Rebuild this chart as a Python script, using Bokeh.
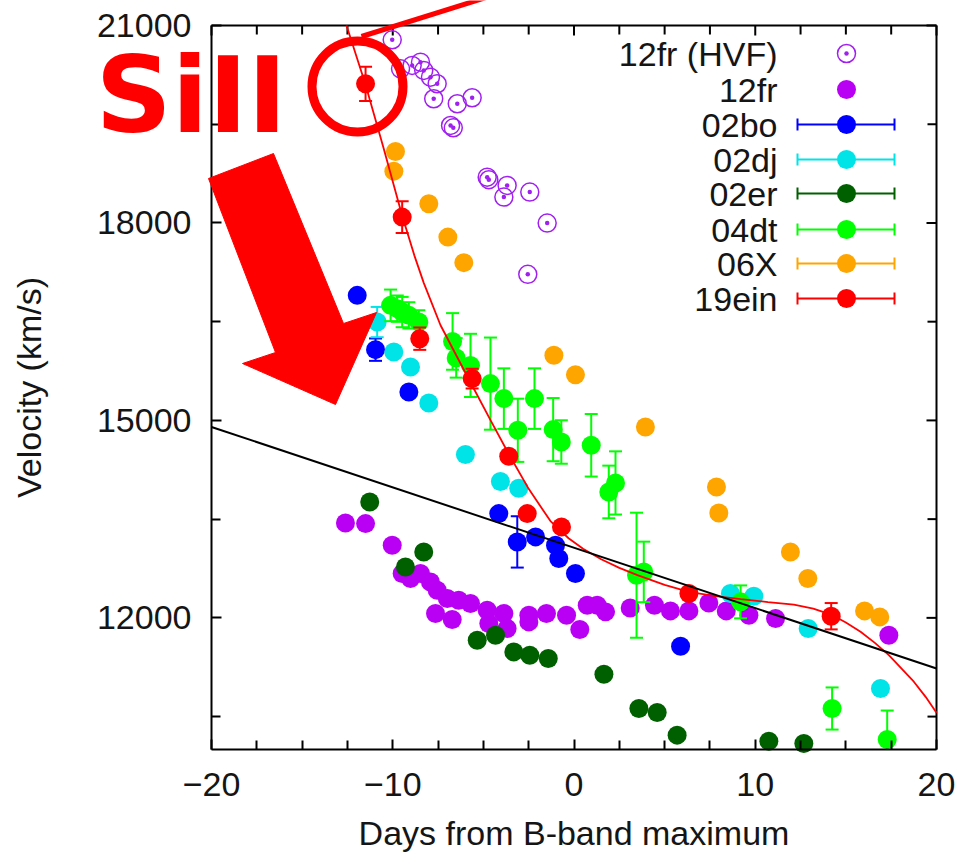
from bokeh.plotting import figure
from bokeh.models import Range1d, LinearAxis, FixedTicker, Label, Arrow, PolyAnnotation
from bokeh.embed import file_html
from bokeh.resources import INLINE

# ---------------- data ----------------
hvf_days = [-10.03, -9.57, -8.93, -8.47, -8.29, -7.92, -7.55, -7.74, -6.44, -5.62,
            -6.81, -6.66, -4.79, -4.70, -3.69, -3.87, -2.44, -1.48, -2.55]
hvf_vel = [20783, 20342, 20393, 20443, 20317, 20215, 20115, 19887, 19811, 19902,
           19481, 19446, 18696, 18657, 18570, 18393, 18469, 17998, 17219]

fr_days = [-12.61, -11.50, -10.03, -9.48, -9.02, -8.47, -7.92, -7.55, -6.99, -6.36,
           -5.71, -4.79, -3.87, -7.64, -6.72, -4.70, -3.69, -2.49, -2.49, -1.52,
           -0.41, 0.32, 0.73, 1.28, 1.74, 3.10, 4.44, 5.32, 6.34, 7.44,
           8.40, 9.65, 11.12, 17.37]
fr_vel = [13442, 13432, 13103, 12674, 12597, 12674, 12546, 12420, 12294, 12268,
          12218, 12116, 12066, 12066, 11975, 11914, 11838, 12040, 11939, 12066,
          12040, 11823, 12192, 12192, 12091, 12150, 12192, 12106, 12106, 12227,
          12106, 12040, 11990, 11737]

bo_days = [-11.96, -10.95, -9.11, -4.15, -3.13, -2.12, -1.02, -0.84, 0.08, 5.88]
bo_vel = [16900, 16075, 15431, 13584, 13154, 13230, 13103, 12901, 12674, 11570]
bo_err = [0, 170, 0, 0, 390, 0, 0, 0, 0, 0]

dj_days = [-10.86, -9.94, -9.02, -8.01, -5.99, -4.06, -3.05, 8.63, 9.92, 12.92, 16.91]
dj_vel = [16494, 16039, 15811, 15264, 14481, 14071, 13970, 12369, 12329, 11838, 10927]
dj_err = [230, 0, 0, 0, 0, 0, 0, 0, 0, 0, 0]

er_days = [-11.27, -8.29, -9.30, -5.34, -4.33, -3.32, -2.44, -1.42, 1.65, 3.58,
           4.59, 5.69, 10.75, 12.68]
er_vel = [13761, 13002, 12774, 11661, 11737, 11483, 11433, 11383, 11144, 10623,
          10563, 10218, 10127, 10092]
er_err = [0] * 14

dt_days = [-10.12, -9.75, -9.48, -9.11, -8.56, -6.70, -6.50, -5.71, -4.61, -3.87,
           -3.10, -2.18, -1.15, -0.70, 0.95, 1.92, 2.29, 3.45, 3.85, 9.19, 14.24, 17.28]
dt_vel = [16748, 16698, 16646, 16596, 16494, 16200, 15950, 15836, 15559, 15331,
          14850, 15331, 14860, 14672, 14622, 13913, 14050, 12648, 12698, 12243, 10623, 10152]
dt_err = [240, 200, 230, 200, 180, 430, 300, 480, 700, 460,
          480, 460, 480, 330, 475, 400, 480, 950, 460, 250, 320, 440]

x_days = [-9.85, -9.94, -8.01, -6.96, -6.08, -1.11, 0.08, 3.94, 7.86, 7.99,
          11.94, 12.90, 16.03, 16.87]
x_vel = [19087, 18787, 18292, 17785, 17397, 15989, 15695, 14900, 13989, 13594,
         13002, 12597, 12106, 12015]
x_err = [0] * 14

ein_days = [-11.50, -9.48, -8.51, -5.62, -3.60, -2.58, -0.69, 6.34, 14.19]
ein_vel = [20114, 18089, 16242, 15635, 14455, 13584, 13382, 12369, 12025]
ein_err = [260, 240, 170, 150, 0, 0, 0, 0, 200]

# fitted curve of 19ein
fit_days = [-12.55, -11.50, -10.50, -9.48, -8.80, -8.29, -7.37, -6.50, -5.62, -4.60,
            -3.60, -2.50, -1.30, -0.30, 0.50, 1.50, 2.50, 3.50, 5.00, 6.34,
            7.80, 9.20, 10.70, 12.13, 13.20, 14.19, 15.00, 15.81, 16.60, 17.37,
            18.10, 18.75, 19.40, 20.00]
fit_vel = [21000, 20100, 19130, 18110, 17500, 17090, 16450, 15990, 15530, 15000,
           14490, 13960, 13470, 13210, 13050, 12890, 12760, 12650, 12500, 12395,
           12330, 12285, 12240, 12200, 12140, 12050, 11930, 11790, 11620, 11433,
           11220, 11030, 10800, 10560]

# straight black line
lin_days = [-20, 20]
lin_vel = [14900, 11230]

x_major = [-20, -10, 0, 10, 20]
x_minor = [-17.5, -15, -12.5, -7.5, -5, -2.5, 2.5, 5, 7.5, 12.5, 15, 17.5]
y_major = [12000, 15000, 18000, 21000]
y_minor = [10500, 13500, 16500, 19500]

legend_labels = ["12fr (HVF)", "12fr", "02bo", "02dj", "02er", "04dt", "06X", "19ein"]

# ---------------- style / layout ----------------
PURPLE_O = "#a020f0"
PURPLE = "#b900f5"
BLUE = "#0000ff"
CYAN = "#00e4e8"
DKGREEN = "#006000"
GREEN = "#00ff00"
ORANGE = "#ffa500"
RED = "#ff0000"

FONT = "Liberation Sans"
FS = "34px"

W, H = 959, 855
XR = (-20, 20)
YR = (10000, 21000)
FL, FT, FW, FH = 211, 25, 725, 724       # plot box inside the canvas (px)
XPP = (XR[1] - XR[0]) / FW               # days per pixel
YPP = (YR[1] - YR[0]) / FH               # km/s per pixel


def sx(px):
    return XR[0] + (px - FL) * XPP


def sy(py):
    return YR[1] - (py - FT) * YPP


# the frame covers the whole canvas; the axes sit at fixed data locations
p = figure(width=W, height=H,
           x_range=Range1d(sx(0), sx(W)), y_range=Range1d(sy(H), sy(0)),
           output_backend="svg", toolbar_location=None,
           x_axis_location=None, y_axis_location=None,
           min_border=0, background_fill_color="white",
           border_fill_color="white")
p.xgrid.visible = False
p.ygrid.visible = False
p.outline_line_color = None


def style_axis(ax, ticks, minors):
    ax.ticker = FixedTicker(ticks=ticks, minor_ticks=minors)
    ax.axis_line_color = "black"
    ax.axis_line_width = 2
    ax.major_tick_in = 10
    ax.major_tick_out = 0
    ax.minor_tick_in = 9
    ax.minor_tick_out = 0
    ax.major_tick_line_width = 2
    ax.minor_tick_line_width = 2
    ax.major_tick_line_color = "black"
    ax.minor_tick_line_color = "black"
    ax.major_label_text_font = FONT
    ax.major_label_text_font_size = FS
    ax.major_label_text_color = "#151515"
    ax.axis_label_text_font = FONT
    ax.axis_label_text_font_size = FS
    ax.axis_label_text_font_style = "normal"
    ax.axis_label_text_color = "#151515"


xaxis = LinearAxis(fixed_location=YR[0], bounds=XR,
                   axis_label="Days from B-band maximum")
style_axis(xaxis, x_major, x_minor)
xaxis.major_label_standoff = 23
xaxis.axis_label_standoff = 15
p.add_layout(xaxis, "below")

yaxis = LinearAxis(fixed_location=XR[0], bounds=YR, axis_label="Velocity (km/s)")
style_axis(yaxis, y_major, y_minor)
yaxis.major_label_standoff = 20
yaxis.axis_label_standoff = 46
p.add_layout(yaxis, "left")

# top and right edges of the box, with mirrored ticks (gnuplot style)
p.segment(x0=[XR[0], XR[1]], y0=[YR[1], YR[0]], x1=[XR[1], XR[1]],
          y1=[YR[1], YR[1]], line_color="black", line_width=2)
TICK_PX = 10
MINOR_PX = 9
xt = x_major + x_minor
xt_len = [TICK_PX] * len(x_major) + [MINOR_PX] * len(x_minor)
p.segment(x0=xt, y0=[YR[1]] * len(xt), x1=xt,
          y1=[YR[1] - L * YPP for L in xt_len], line_color="black", line_width=2)
yt = y_major + y_minor
yt_len = [TICK_PX] * len(y_major) + [MINOR_PX] * len(y_minor)
p.segment(x0=[XR[1]] * len(yt), y0=yt, x1=[XR[1] - L * XPP for L in yt_len],
          y1=yt, line_color="black", line_width=2)

MS = 19
CAP = 13


def errbars(days, vel, err, color):
    xs = [d for d, e in zip(days, err) if e > 0]
    lo = [v - e for v, e in zip(vel, err) if e > 0]
    hi = [v + e for v, e in zip(vel, err) if e > 0]
    if not xs:
        return
    lo_c = [max(v, YR[0]) for v in lo]
    p.segment(x0=xs, y0=lo_c, x1=xs, y1=hi, line_color=color, line_width=2)
    cx = xs + [x for x, v in zip(xs, lo) if v >= YR[0]]
    cy = hi + [v for v in lo if v >= YR[0]]
    p.scatter(x=cx, y=cy, marker="dash", size=CAP, line_color=color, line_width=2)


# series
p.scatter(x=hvf_days, y=hvf_vel, marker="circle_dot", size=18, fill_color=None,
          line_color=PURPLE_O, line_width=1.5)
p.scatter(x=fr_days, y=fr_vel, size=MS, fill_color=PURPLE, line_color=None)

for days, vel, err, col in [(bo_days, bo_vel, bo_err, BLUE),
                            (dj_days, dj_vel, dj_err, CYAN),
                            (er_days, er_vel, er_err, DKGREEN),
                            (dt_days, dt_vel, dt_err, GREEN),
                            (x_days, x_vel, x_err, ORANGE),
                            (ein_days, ein_vel, ein_err, RED)]:
    errbars(days, vel, err, col)
    p.scatter(x=days, y=vel, size=MS, fill_color=col, line_color=None)

p.line(fit_days, fit_vel, line_color=RED, line_width=1.8)
p.line(lin_days, lin_vel, line_color="black", line_width=2)

# ---------------- legend (drawn by hand, gnuplot style) ----------------
LEG_TEXT_X = 777
LEG_SYM_X = 846
LEG_LINE = (797, 894)
LEG_ROWS = [53, 89, 124, 159, 193, 229, 263, 298]
leg_colors = [PURPLE_O, PURPLE, BLUE, CYAN, DKGREEN, GREEN, ORANGE, RED]

for i, (lab, col, ry) in enumerate(zip(legend_labels, leg_colors, LEG_ROWS)):
    p.add_layout(Label(x=sx(LEG_TEXT_X), y=sy(ry), text=lab, text_font=FONT,
                       text_font_size=FS, text_align="right",
                       text_baseline="middle", text_color="#151515"))
    if i == 0:
        p.scatter(x=[sx(LEG_SYM_X)], y=[sy(ry)], marker="circle_dot", size=18,
                  fill_color=None, line_color=col, line_width=1.5)
    elif i == 1:
        p.scatter(x=[sx(LEG_SYM_X)], y=[sy(ry)], size=MS, fill_color=col,
                  line_color=None)
    else:
        p.segment(x0=[sx(LEG_LINE[0])], y0=[sy(ry)], x1=[sx(LEG_LINE[1])],
                  y1=[sy(ry)], line_color=col, line_width=2)
        p.segment(x0=[sx(LEG_LINE[0]), sx(LEG_LINE[1])],
                  y0=[sy(ry - 6), sy(ry - 6)],
                  x1=[sx(LEG_LINE[0]), sx(LEG_LINE[1])],
                  y1=[sy(ry + 6), sy(ry + 6)], line_color=col, line_width=2)
        p.scatter(x=[sx(LEG_SYM_X)], y=[sy(ry)], size=MS, fill_color=col,
                  line_color=None)

# ---------------- red annotations ----------------
arrow_px = [(208, 178), (273, 153), (343, 323), (376, 312), (335, 404),
            (242, 363), (275, 352)]
p.add_layout(PolyAnnotation(xs=[sx(a) for a, b in arrow_px],
                            ys=[sy(b) for a, b in arrow_px],
                            fill_color=RED, fill_alpha=1.0, line_color=RED,
                            line_alpha=1.0, line_width=1))

p.scatter(x=[sx(357)], y=[sy(86)], size=91, fill_color=None, line_color=RED,
          line_width=9)
p.add_layout(Arrow(end=None, x_start=sx(361), y_start=sy(36), x_end=sx(508),
                   y_end=sy(-10), line_color=RED, line_width=5))
p.add_layout(Label(x=sx(95), y=sy(95), text="SiII", text_font="DejaVu Sans",
                   text_font_style="bold", text_font_size="106px",
                   text_color=RED, text_align="left", text_baseline="alphabetic"))

open("out.html", "w").write(file_html(p, INLINE))
